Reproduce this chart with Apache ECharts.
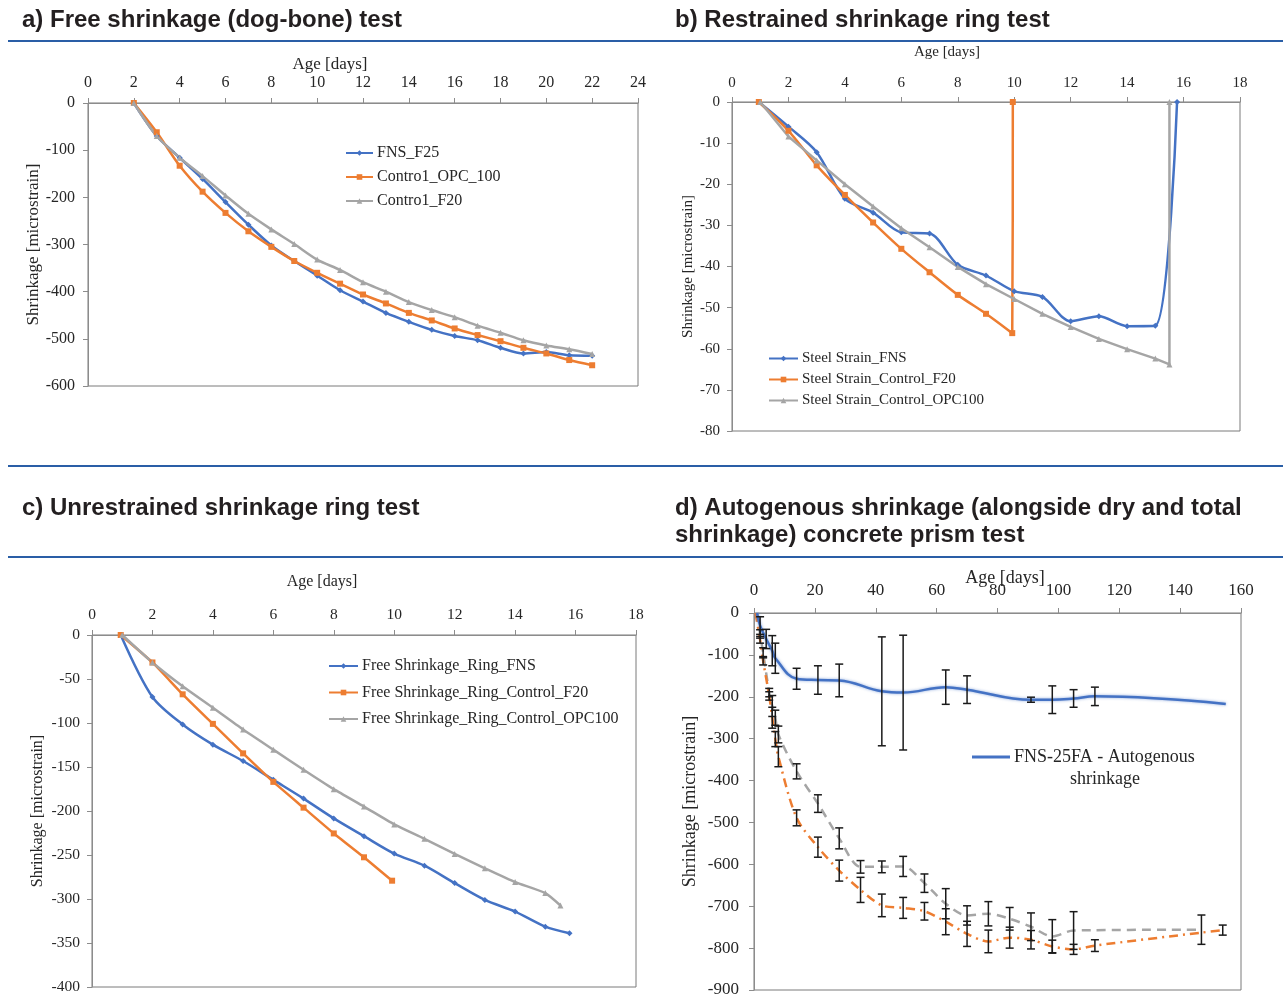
<!DOCTYPE html>
<html>
<head>
<meta charset="utf-8">
<title>Shrinkage tests</title>
<script src="https://cdn.jsdelivr.net/npm/echarts/dist/echarts.min.js"></script>
<style>
  html, body { margin: 0; padding: 0; background: #ffffff; }
  #chart { width: 1283px; height: 996px; }
</style>
</head>
<body>
<div id="chart"></div>
<script>
// ---------- a) Free shrinkage (dog-bone) test ----------
const aDays = [2, 3, 4, 5, 6, 7, 8, 9, 10, 11, 12, 13, 14, 15, 16, 17, 18, 19, 20, 21, 22];
const aFNS  = [0, -70, -116, -161, -210, -258, -302, -335, -366, -397, -421, -445, -464, -481, -494, -503, -519, -531, -528, -535, -536];
const aOPC  = [0, -62, -133, -188, -233, -272, -305, -335, -360, -383, -406, -425, -445, -461, -478, -492, -505, -519, -531, -545, -556];
const aF20  = [0, -70, -116, -155, -196, -235, -268, -299, -332, -354, -380, -400, -422, -439, -454, -472, -487, -503, -514, -522, -532];

// ---------- b) Restrained shrinkage ring test ----------
const bFNSDays = [0.95, 2, 3, 4, 5, 6, 7, 8, 9, 10, 11, 12, 13, 14, 15, 15.77];
const bFNS     = [0, -6.0, -12.2, -23.5, -26.9, -31.7, -32.0, -39.6, -42.2, -46.0, -47.4, -53.3, -52.1, -54.5, -54.4, 0];
const bF20Days = [0.95, 2, 3, 4, 5, 6, 7, 8, 9, 9.93, 9.95];
const bF20     = [0, -7.0, -15.4, -22.6, -29.3, -35.7, -41.4, -46.9, -51.5, -56.2, 0];
const bOPCDays = [1, 2, 3, 4, 5, 6, 7, 8, 9, 10, 11, 12, 13, 14, 15, 15.5, 15.5];
const bOPC     = [0, -8.4, -14.2, -20.0, -25.4, -30.7, -35.3, -40.1, -44.3, -47.9, -51.5, -54.7, -57.6, -60.1, -62.4, -63.8, 0];

// ---------- c) Unrestrained shrinkage ring test ----------
const cFNSDays = [0.95, 2, 3, 4, 5, 6, 7, 8, 9, 10, 11, 12, 13, 14, 15, 15.8];
const cFNS     = [0, -70.5, -101.7, -124.6, -143.2, -164.6, -185.9, -208.4, -228.6, -248.4, -262.1, -281.9, -301, -314.3, -331.4, -339];
const cF20Days = [0.95, 2, 3, 4, 5, 6, 7, 8, 9, 9.93];
const cF20     = [0, -31.2, -67.4, -101, -134.5, -166.9, -196.2, -225.5, -252.6, -279.2];
const cOPCDays = [1, 2, 3, 4, 5, 6, 7, 8, 9, 10, 11, 12, 13, 14, 15, 15.5];
const cOPC     = [0, -31.2, -58.3, -82.7, -107.4, -130.3, -153.1, -175.2, -195, -215.2, -231.6, -248.8, -265.1, -280.8, -293.3, -307.4];

// ---------- d) Concrete prism test: autogenous, dry and total shrinkage ----------
const dAutoDays = [1, 2, 4, 6, 7, 14, 21, 28, 42, 49, 63, 70, 91, 98, 105, 112, 155];
const dAuto     = [0, -30, -62, -90, -108, -157, -160, -161, -187, -190, -177, -183, -207, -207, -204, -199, -217];
const dAutoErr  = [0, 21, 23, 36, 36, 25, 34, 39, 130, 137, 41, 33, 6, 33, 21, 22, 0];
const dDryDays  = [1, 2, 3, 5, 6, 7, 8, 14, 21, 28, 35, 42, 49, 56, 63, 70, 77, 84, 91, 98, 105, 147];
const dDry      = [0, -50, -95, -190, -222, -250, -290, -378, -455, -538, -606, -606, -605, -645, -694, -722, -718, -730, -749, -772, -758, -756];
const dDryErr   = [0, 10, 12, 10, 25, 18, 20, 18, 21, 25, 15, 14, 24, 22, 36, 23, 29, 27, 33, 40, 45, 35];
const dTotDays  = [0.5, 2, 3, 5, 6, 7, 8, 14, 21, 28, 35, 42, 49, 56, 63, 70, 77, 84, 91, 98, 105, 112, 147, 154];
const dTot      = [0, -64, -114, -198, -250, -301, -343, -489, -559, -615, -661, -698, -704, -712, -737, -766, -784, -775, -780, -796, -803, -794, -763, -757];
const dTotErr   = [0, 8, 10, 10, 25, 18, 24, 19, 24, 25, 30, 27, 25, 21, 31, 30, 27, 25, 22, 15, 12, 14, 0, 12];

// ---------- styling ----------
const BLUE = '#4472C4', ORANGE = '#ED7D31', GRAY = '#A5A5A5';
const SERIF = '"Liberation Serif", "Times New Roman", serif';
const TXT = '#262626';
const AXIS = '#8c8c8c';

const pairs = (xs, ys) => xs.map((x, i) => [x, ys[i]]);

function grid(left, top, width, height) {
  return { left, top, width, height, show: true, borderColor: '#7a7a7a', borderWidth: 1,
           backgroundColor: 'transparent', outerBoundsMode: 'none', containLabel: false };
}

function xAxis(gi, max, interval, fs, nameFs, nameGap, padding, labelMargin) {
  return {
    gridIndex: gi, type: 'value', position: 'top', min: 0, max, interval,
    name: 'Age [days]', nameLocation: 'middle', nameGap, nameMoveOverlap: false,
    nameTextStyle: { fontFamily: SERIF, fontSize: nameFs, color: TXT, padding },
    axisLine: { show: true, onZero: false, lineStyle: { color: AXIS, width: 1 } },
    axisTick: { show: true, length: 5, lineStyle: { color: AXIS } },
    axisLabel: { fontFamily: SERIF, fontSize: fs, color: TXT, margin: labelMargin },
    splitLine: { show: false }
  };
}

function yAxis(gi, min, interval, fs, nameFs, nameGap, labelMargin) {
  return {
    gridIndex: gi, type: 'value', min, max: 0, interval,
    name: 'Shrinkage [microstrain]', nameLocation: 'middle', nameGap, nameMoveOverlap: false,
    nameTextStyle: { fontFamily: SERIF, fontSize: nameFs, color: TXT },
    axisLine: { show: true, onZero: false, lineStyle: { color: AXIS, width: 1 } },
    axisTick: { show: true, length: 5, lineStyle: { color: AXIS } },
    axisLabel: { fontFamily: SERIF, fontSize: fs, color: TXT, margin: labelMargin },
    splitLine: { show: false }
  };
}

function lineSeries(name, gi, data, color, symbol, size, smooth) {
  return {
    name, type: 'line', xAxisIndex: gi, yAxisIndex: gi, data, smooth,
    symbol, symbolSize: size, showSymbol: true,
    itemStyle: { color, borderWidth: 0 },
    lineStyle: { color, width: 2.5 },
    emphasis: { disabled: true }, animation: false
  };
}

function errorBars(days, vals, errs, gi) {
  const data = [];
  days.forEach((d, i) => { if (errs[i] > 0) data.push([d, vals[i] - errs[i], vals[i] + errs[i]]); });
  return {
    type: 'custom', xAxisIndex: gi, yAxisIndex: gi, silent: true, z: 4, animation: false,
    data, encode: { x: 0, y: [1, 2] },
    renderItem(params, api) {
      const x = api.value(0);
      const lo = api.coord([x, api.value(1)]);
      const hi = api.coord([x, api.value(2)]);
      const w = 4;
      const style = { stroke: '#1a1a1a', lineWidth: 1.5 };
      return { type: 'group', children: [
        { type: 'line', shape: { x1: lo[0], y1: lo[1], x2: hi[0], y2: hi[1] }, style },
        { type: 'line', shape: { x1: lo[0] - w, y1: lo[1], x2: lo[0] + w, y2: lo[1] }, style },
        { type: 'line', shape: { x1: hi[0] - w, y1: hi[1], x2: hi[0] + w, y2: hi[1] }, style }
      ]};
    }
  };
}

function legend(names, left, top, itemWidth, fs, itemGap, itemHeight) {
  return {
    data: names, left, top, orient: 'vertical', itemWidth, itemHeight: itemHeight || 7, itemGap,
    selectedMode: false, padding: 0,
    textStyle: { fontFamily: SERIF, fontSize: fs, color: TXT, padding: [0, 0, 0, -1] }
  };
}

const TITLE_FONT = 'bold 24px "Liberation Sans", Arial, sans-serif';
const RULE = '#2a5ea6';
function title(text, x, y) {
  return { type: 'text', x, y, silent: true,
           style: { text, font: TITLE_FONT, fill: '#231f20', verticalAlign: 'middle', align: 'left' } };
}
function rule(x1, x2, y) {
  return { type: 'line', silent: true, shape: { x1, y1: y, x2, y2: y }, style: { stroke: RULE, lineWidth: 2 } };
}

const option = {
  backgroundColor: '#ffffff',
  animation: false,
  grid: [
    grid(88, 103, 550, 283),
    grid(732, 102, 508, 329),
    grid(92, 635, 544, 352),
    grid(754, 613, 487, 377)
  ],
  xAxis: [
    xAxis(0, 24, 2, 16, 17, 30, [0, 66, 0, 0], 12),
    xAxis(1, 18, 2, 15, 15, 42, [0, 78, 0, 0], 11),
    xAxis(2, 18, 2, 15.5, 16, 45, [0, 84, 0, 0], 12),
    xAxis(3, 160, 20, 17, 18, 26, [0, 0, 0, 15], 14)
  ],
  yAxis: [
    yAxis(0, -600, 100, 16, 17, 46, 13),
    yAxis(1, -80, 10, 15, 15, 36, 12),
    yAxis(2, -400, 50, 15.5, 16, 46, 12),
    yAxis(3, -900, 100, 17, 18, 55, 15)
  ],
  legend: [
    legend(['FNS_F25', 'Contro1_OPC_100', 'Contro1_F20'], 345, 145, 27, 16, 8),
    legend(['Steel Strain_FNS', 'Steel Strain_Control_F20', 'Steel Strain_Control_OPC100'], 768, 351, 29, 15, 6),
    legend(['Free Shrinkage_Ring_FNS', 'Free Shrinkage_Ring_Control_F20', 'Free Shrinkage_Ring_Control_OPC100'], 328, 658, 29, 16, 10.5),
    legend([{ name: 'FNS-25FA - Autogenous', icon: 'rect' }], 972, 748, 38, 18, 6, 3)
  ],
  series: [
    // a
    lineSeries('FNS_F25', 0, pairs(aDays, aFNS), BLUE, 'diamond', 6, 0.3),
    lineSeries('Contro1_OPC_100', 0, pairs(aDays, aOPC), ORANGE, 'rect', 6, 0.3),
    lineSeries('Contro1_F20', 0, pairs(aDays, aF20), GRAY, 'triangle', 6, 0.3),
    // b
    lineSeries('Steel Strain_FNS', 1, pairs(bFNSDays, bFNS), BLUE, 'diamond', 6, 0.3),
    lineSeries('Steel Strain_Control_F20', 1, pairs(bF20Days, bF20), ORANGE, 'rect', 6, 0.3),
    lineSeries('Steel Strain_Control_OPC100', 1, pairs(bOPCDays, bOPC), GRAY, 'triangle', 6, false),
    // c
    lineSeries('Free Shrinkage_Ring_FNS', 2, pairs(cFNSDays, cFNS), BLUE, 'diamond', 6, 0.3),
    lineSeries('Free Shrinkage_Ring_Control_F20', 2, pairs(cF20Days, cF20), ORANGE, 'rect', 6, 0.15),
    lineSeries('Free Shrinkage_Ring_Control_OPC100', 2, pairs(cOPCDays, cOPC), GRAY, 'triangle', 6, 0.2),
    // d
    {
      name: 'FNS-25FA - Autogenous', type: 'line', xAxisIndex: 3, yAxisIndex: 3,
      data: pairs(dAutoDays, dAuto), smooth: 0.4, symbol: 'none', z: 3,
      itemStyle: { color: BLUE },
      lineStyle: { color: BLUE, width: 2.5, shadowBlur: 3, shadowColor: 'rgba(68,114,196,0.6)' }
    },
    {
      name: 'Dry', type: 'line', xAxisIndex: 3, yAxisIndex: 3,
      data: pairs(dDryDays, dDry), smooth: 0.3, symbol: 'none', z: 2,
      itemStyle: { color: GRAY },
      lineStyle: { color: GRAY, width: 2.5, type: [9, 6] }
    },
    {
      name: 'Total', type: 'line', xAxisIndex: 3, yAxisIndex: 3,
      data: pairs(dTotDays, dTot), smooth: 0.3, symbol: 'none', z: 2,
      itemStyle: { color: ORANGE },
      lineStyle: { color: ORANGE, width: 2.5, type: [9, 5, 2, 5] }
    },
    errorBars(dAutoDays, dAuto, dAutoErr, 3),
    errorBars(dDryDays, dDry, dDryErr, 3),
    errorBars(dTotDays, dTot, dTotErr, 3)
  ],
  graphic: [
    title('a) Free shrinkage (dog-bone) test', 22, 20),
    title('b) Restrained shrinkage ring test', 675, 20),
    title('c) Unrestrained shrinkage ring test', 22, 508),
    title('d) Autogenous shrinkage (alongside dry and total', 675, 508),
    title('shrinkage) concrete prism test', 675, 535),
    rule(8, 1283, 41),
    rule(8, 1283, 466),
    rule(8, 1283, 557),
    { type: 'text', x: 1105, y: 779, silent: true,
      style: { text: 'shrinkage', font: '18px ' + SERIF, fill: TXT, align: 'center', verticalAlign: 'middle' } }
  ]
};

const chart = echarts.init(document.getElementById('chart'), null, { renderer: 'canvas' });
chart.setOption(option);
</script>
</body>
</html>
